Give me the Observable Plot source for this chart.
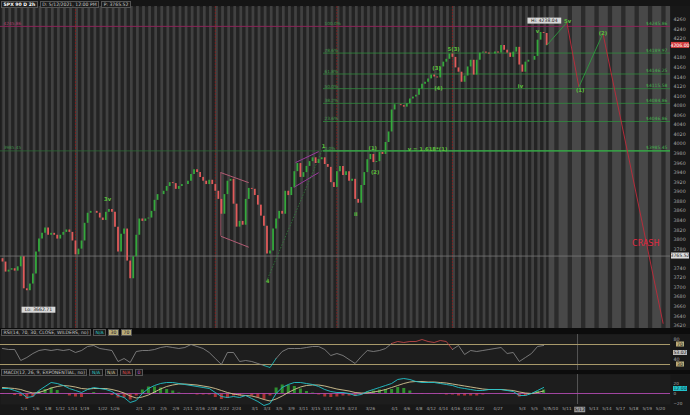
<!DOCTYPE html>
<html><head><meta charset="utf-8">
<script src="https://cdn.jsdelivr.net/npm/d3@7"></script>
<script src="https://cdn.jsdelivr.net/npm/@observablehq/plot@0.6"></script>
<style>
html,body{margin:0;padding:0;background:#0c0c0c;}
#wrap{position:relative;width:690px;height:415px;overflow:hidden;background:#0c0c0c;font-family:"DejaVu Sans",sans-serif;}
.abs{position:absolute;}
.hdr{font-size:4.6px;color:#c8c8c8;white-space:nowrap;line-height:5px;}
.bx{display:inline-block;padding:0 1.5px;margin-left:2px;border:0.5px solid #555;}
</style></head><body><div id="wrap">
<div class="abs hdr" style="left:0;top:0;width:690px;height:6px;background:#151515;"></div>
<div class="abs hdr" style="left:1px;top:0.5px;"><span class="bx" style="margin-left:0;font-weight:bold;color:#fff;background:#202020">SPX 90 D 2h</span><span class="bx" style="background:#1c1c1c">D: 5/12/2021, 12:00 PM</span><span class="bx" style="background:#1c1c1c">P: 3765.52</span></div>
<div class="abs hdr" style="left:1px;top:329px;"><span class="bx" style="margin-left:0;background:#1c1c1c">RSI(14, 70, 30, CLOSE, WILDERS, no)</span><span class="bx" style="color:#2cc9c9;background:#1c1c1c">N/A</span><span class="bx" style="color:#222;background:#b9ab78">30</span><span class="bx" style="color:#222;background:#b9ab78">70</span></div>
<div class="abs hdr" style="left:1px;top:369px;"><span class="bx" style="margin-left:0;background:#1c1c1c">MACD(12, 26, 9, EXPONENTIAL, no)</span><span class="bx" style="color:#2cc9c9;background:#1c1c1c">N/A</span><span class="bx" style="color:#d8c89a;background:#1c1c1c">N/A</span><span class="bx" style="color:#e05050;background:#1c1c1c">N/A</span><span class="bx" style="color:#c050c0;background:#1c1c1c">0</span></div>
</div>
<script>
// ---------- DATA ----------
// half-day closes starting 12/30/2020 (trading-day index -3), step 0.5 day
const closes = [
3753,3732,3736,3739,3734,3743,3764,3697,3693,3707,
3728,3774,3801,3813,3824,3809,3813,3809,3801,3809,
3815,3820,3815,3797,3768,3780,3797,3834,3855,3859,
3859,3855,3845,3840,3857,3863,3857,3826,3774,3811,
3822,3755,3718,3764,3809,3843,3838,3843,3845,3859,
3882,3894,3894,3901,3911,3919,3917,3905,3911,3915,
3915,3922,3936,3946,3940,3930,3922,3915,3924,3915,
3901,3884,3853,3894,3922,3926,3874,3826,3838,3830,
3884,3907,3905,3892,3872,3849,3828,3770,3776,3822,
3843,3859,3853,3901,3892,3909,3942,3959,3930,3940,
3953,3963,3971,3959,3967,3971,3957,3951,3919,3909,
3942,3953,3934,3942,3922,3926,3884,3876,3913,3940,
3967,3978,3961,3963,3982,3978,4003,4025,4071,4082,
4082,4080,4077,4084,4094,4098,4102,4115,4125,4129,
4136,4144,4140,4138,4161,4171,4177,4188,4181,4159,
4150,4129,4142,4161,4175,4144,4175,4190,4192,4190,
4188,4188,4192,4190,4206,4196,4190,4181,4192,4202,
4165,4150,4171,4175,4175,4183,4217,4233,4231,4206];
const firstOpen = 3760;
const startDay = -3;

// daily RSI and MACD from day index -3
const rsiValues = [62,60,60,38,44,52,58,60,58,60,58,60,54,58,66,68,62,60,58,36,
42,34,56,58,58,60,64,66,64,62,64,70,66,62,54,42,30,54,54,36,
38,36,32,28,24,42,56,62,62,62,64,66,66,60,48,52,48,40,32,46,
58,56,58,62,72,76,74,76,76,80,76,74,78,76,60,68,50,58,56,58,
60,62,64,52,54,36,44,52,66,68];
const rsiLast = 53.02;
const macdValues = [10,10,6,2,-8,-6,6,14,22,20,16,10,6,2,8,12,10,8,4,-4,
-8,-18,-14,0,10,16,20,22,22,20,18,16,14,12,10,2,-6,-8,-6,-8,
-4,-10,-16,-24,-20,0,12,18,22,22,20,18,14,8,4,2,2,0,-4,-2,
4,8,12,16,20,28,30,28,24,22,22,22,20,18,16,12,10,8,6,6,
8,8,8,6,4,-4,-4,0,6,12];
const signalValues = [12,11,10,8,4,1,2,6,11,14,16,15,13,10,9,10,10,10,8,5,
1,-5,-9,-7,-3,3,9,14,17,19,19,18,17,15,13,10,6,2,-1,-3,
-4,-5,-8,-12,-15,-11,-5,2,8,13,16,17,17,15,12,9,7,5,2,1,
1,3,5,8,12,16,20,23,24,24,23,23,22,21,19,17,15,13,11,9,
8,8,8,7,6,3,1,0,2,5];

// x-axis date labels and their trading-day index (1/4/2021 = 0)
const tickLabels = ["1/4","1/6","1/8","1/12","1/14","1/19","1/22","1/26","2/1","2/3","2/5","2/9","2/11","2/16","2/18","2/22","2/24",
"3/1","3/3","3/5","3/9","3/11","3/15","3/17","3/19","3/23","3/26","4/1","4/6","4/8","4/12","4/14","4/16","4/20","4/22","4/27",
"5/3","5/5","5/7","5/10","5/11","5/12","5/13","5/14","5/17","5/18","5/19","5/20"];
const tickDays = [0,2,4,6,8,10,13,15,19,21,23,25,27,29,31,33,35,
38,40,42,44,46,48,50,52,54,57,61,63,65,67,69,71,73,75,78,
82,84,86,87,88,89,90,91,92,93,94,95];
const lastDay = 95;
const futureStart = 86.9;
const expiryDays = [9, 32, 52, 71];

// price levels
const fibPrices = [4245.86, 4189.97, 4146.25, 4115.58, 4084.86, 4046.86, 3985.45];
const fibPct = ["100.0%", "78.6%", "61.8%", "50.0%", "38.2%", "23.6%", "0.0%"];
const fibStartDay = 49.8;
const crossPrice = 3765.52;
const crossDay = 89.3;
const hiPrice = 4238.04, hiDay = 86.2;
const loPrice = 3662.71, loDay = 0.5;

// wave labels
const waveText = ["3v","4","1","(1)","(2)","ii","(3)","(4)","5(3)","iv","v","5v","(1)","(2)","v = 1.618*(1)"];
const waveDay = [14.3,40.6,49.8,57.9,58.3,55.1,68.4,68.7,71.2,82.2,85.0,88.55,89.5,91.2,66.9];
const wavePrice = [3884,3712,3994,3990,3940,3853,4159,4117,4198,4121,4236,4256,4113,4231,3988];

// projection path
const projDays = [86.5, 88.5, 89.4, 91.2, 95.7];
const projPrices = [4206, 4254, 4119, 4231, 3624];

// drawn channel lines [day1, price1, day2, price2]
const pinkLines = [[32.9, 3940, 37.5, 3919], [32.9, 3807, 37.5, 3784]];
const purpleLines = [[45.2, 3961, 49.0, 3984], [44.9, 3909, 49.0, 3940]];
const greenDash = [[40.6, 3718, 49.8, 3994]];

const priceTicks = d3.range(3620, 4261, 20);

// ---------- BUILD ----------
// the expansion area (future) is drawn wider per day than the history
const breakDay = 87.4, futureStretch = 13.375 / 6.08;
const slot = t => t <= breakDay ? t : breakDay + (t - breakDay) * futureStretch;
const xEnd = 96.25;
const XS = {domain: [slot(startDay), slot(xEnd)], range: [2, 670]};

const GREEN = "#34a83c", RED = "#e05a5a";
const lastClose = closes[closes.length - 1];
const bars = closes.map((c, k) => ({t: startDay + 0.5 * k, open: k ? closes[k - 1] : firstOpen, close: c}));
const rsiData = rsiValues.map((v, k) => ({t: startDay + k, v}));
const macdData = macdValues.map((v, k) => ({t: startDay + k, m: v, s: signalValues[k], h: v - signalValues[k]}));
const pastDays = d3.range(startDay, futureStart);
const futDays = d3.range(Math.ceil(futureStart), lastDay + 1);
const fib = fibPrices.map((p, i) => ({p, pct: fibPct[i], lab: "$" + p.toFixed(2)}));
const waves = waveText.map((text, i) => ({text, t: waveDay[i], p: wavePrice[i]}));
const proj = projDays.slice(1).map((d, i) => ({x1: projDays[i], y1: projPrices[i], x2: d, y2: projPrices[i + 1]}));
const ticks = tickDays.map((d, i) => ({v: slot(d + 0.5), label: tickLabels[i]}));
const tickMap = new Map(ticks.map(d => [d.v, d.label]));
const toLink = a => a.map(([x1, y1, x2, y2]) => ({x1, y1, x2, y2}));
const linkOpts = {x1: d => slot(d.x1), y1: "y1", x2: d => slot(d.x2), y2: "y2"};
// axis ticks hidden under the value boxes
const shownPriceTicks = priceTicks.filter(v => Math.abs(v - lastClose) > 11 && Math.abs(v - crossPrice) > 11);

function boxes(items) {
  return (index, scales, values, dim) => {
    const g = d3.create("svg:g").attr("font-family", "DejaVu Sans").attr("font-size", 4.6);
    for (const b of items) {
      const cx = b.x == null ? dim.width - dim.marginRight + 10 : scales.x(slot(b.x));
      const cy = (b.y == null ? dim.height - dim.marginBottom + 5.5 : scales.y(b.y)) + (b.dy || 0);
      const w = b.w || (b.text.length * 2.8 + 3), h = b.h || 6;
      g.append("rect").attr("x", cx - w / 2).attr("y", cy - h / 2).attr("width", w).attr("height", h)
        .attr("fill", b.fill).attr("stroke", b.stroke || "none").attr("stroke-width", 0.5);
      g.append("text").attr("x", cx).attr("y", cy).attr("dy", "0.36em").attr("text-anchor", "middle")
        .attr("fill", b.color).text(b.text);
    }
    return g.node();
  };
}

const baseStyle = {background: "#181818", color: "#a8a8a8", fontFamily: "DejaVu Sans", fontSize: "4.8px"};

// PRICE PANEL
const price = Plot.plot({
  width: 690, height: 322,
  marginLeft: 0, marginRight: 20, marginTop: 0, marginBottom: 0,
  style: baseStyle,
  x: {...XS, axis: null},
  y: {domain: [3614, 4287.4], axis: "right", ticks: shownPriceTicks, tickSize: 0, tickPadding: 3, tickFormat: d => String(d), label: null},
  color: {type: "identity"},
  marks: [
    Plot.frame({fill: "#232323", stroke: null}),
    Plot.rect(pastDays, {x1: d => slot(d + 0.05), x2: d => slot(d + 0.5), fill: "#414141"}),
    Plot.rect([futureStart], {x1: d => slot(d), x2: slot(xEnd), fill: "#484848"}),
    Plot.rect(futDays, {x1: d => slot(d + 0.6), x2: d => slot(d + 0.92), fill: "#2b2b2b"}),
    Plot.ruleX(expiryDays, {x: d => slot(d), stroke: "#8a1e1e", strokeWidth: 0.8, strokeDasharray: "2,1"}),
    Plot.ruleY([crossPrice], {stroke: "#7a7a7a", strokeWidth: 0.8}),
    Plot.ruleY([fibPrices[6]], {stroke: "#2c6a35", strokeWidth: 0.8}),
    Plot.ruleY(fib.slice(1, 6), {y: "p", x1: slot(fibStartDay), x2: slot(xEnd), stroke: "#2f8a3c", strokeWidth: 0.8}),
    Plot.ruleY([fibPrices[6]], {x1: slot(fibStartDay), x2: slot(xEnd), stroke: "#38b24a", strokeWidth: 1.4}),
    Plot.ruleY([fibPrices[0]], {stroke: "#8a2458", strokeWidth: 1}),
    Plot.text(fib, {x: slot(fibStartDay), y: "p", text: "pct", fill: "#3f9a4a", fontSize: 4.3, textAnchor: "start", dx: 1, dy: -2.5}),
    Plot.text(fib, {y: "p", text: "lab", frameAnchor: "right", fill: "#45b04f", fontSize: 4.5, textAnchor: "end", dx: -3, dy: -3}),
    Plot.text([fibPrices[0]], {y: d => d, text: d => d.toFixed(2), frameAnchor: "left", fill: "#b04070", fontSize: 4.3, textAnchor: "start", dx: 3, dy: -3}),
    Plot.text([fibPrices[6]], {y: d => d, text: d => d.toFixed(2), frameAnchor: "left", fill: "#3f8a4a", fontSize: 4.3, textAnchor: "start", dx: 3, dy: -3}),
    Plot.link(toLink(pinkLines), {...linkOpts, stroke: "#c0607a", strokeWidth: 0.9}),
    Plot.ruleX([pinkLines[0][0]], {x: d => slot(d), y1: pinkLines[1][1], y2: pinkLines[0][1], stroke: "#c0607a", strokeWidth: 0.7}),
    Plot.link(toLink(purpleLines), {...linkOpts, stroke: "#a63aa8", strokeWidth: 0.9}),
    Plot.link(toLink(greenDash), {...linkOpts, stroke: "#2f8a3c", strokeWidth: 0.7, strokeDasharray: "1.5,1.5"}),
    Plot.ruleX(bars, {x: d => slot(d.t), y1: "open", y2: "close", stroke: d => d.close >= d.open ? GREEN : RED, strokeWidth: 1.8}),
    Plot.link(proj, {...linkOpts, stroke: d => d.y2 > d.y1 ? "#2e9a3e" : "#c02a3a", strokeWidth: 0.9}),
    Plot.text(waves, {x: d => slot(d.t), y: "p", text: "text", fill: "#5cc03c", fontSize: 5.3, fontWeight: "bold"}),
    Plot.text(["CRASH"], {x: slot(94.4), y: 3791, text: d => d, fill: "#e02840", fontSize: 8}),
    boxes([
      {y: lastClose, text: lastClose.toFixed(2), fill: "#d23c3c", color: "#fff", w: 18},
      {y: crossPrice, text: crossPrice.toFixed(2), fill: "#dcdcdc", color: "#222", w: 18},
      {x: hiDay, y: hiPrice, dy: -9, text: "Hi: " + hiPrice.toFixed(2), fill: "#d8d8d8", color: "#222"},
      {x: loDay + 2.5, y: loPrice, dy: 5, text: "Lo: " + loPrice.toFixed(2), fill: "#d8d8d8", color: "#222"}
    ])
  ]
});
price.style.position = "absolute"; price.style.left = "0px"; price.style.top = "6px";

// RSI PANEL
const rsiPlot = Plot.plot({
  width: 690, height: 36,
  marginLeft: 0, marginRight: 20, marginTop: 0, marginBottom: 0,
  style: baseStyle,
  x: {...XS, axis: null},
  y: {domain: [18, 90], axis: "right", ticks: [80, 40], tickSize: 0, tickPadding: 3, label: null},
  color: {type: "identity"},
  marks: [
    Plot.frame({fill: "#1d1d1d", stroke: null}),
    Plot.ruleX([crossDay], {x: d => slot(d), stroke: "#555"}),
    Plot.ruleY([70, 30], {stroke: "#a8996a", strokeWidth: 1}),
    Plot.line(rsiData, {x: d => slot(d.t), y: "v", z: null, stroke: d => d.v > 70 ? "#d04a4a" : d.v < 30 ? "#1ec8c8" : "#8e8e8e", strokeWidth: 0.8}),
    boxes([
      {y: 70, text: "70", fill: "#b9ab78", color: "#222", w: 8, h: 5},
      {y: 30, text: "30", fill: "#b9ab78", color: "#222", w: 8, h: 5},
      {y: rsiLast, text: rsiLast.toFixed(2), fill: "#bdbdbd", color: "#222", w: 14, h: 5}
    ])
  ]
});
rsiPlot.style.position = "absolute"; rsiPlot.style.left = "0px"; rsiPlot.style.top = "334px";

// MACD PANEL + DATE AXIS
const macdPlot = Plot.plot({
  width: 690, height: 41,
  marginLeft: 0, marginRight: 20, marginTop: 0, marginBottom: 11,
  style: {...baseStyle, fontSize: "4.2px"},
  x: {...XS, axis: "bottom", ticks: ticks.map(d => d.v), tickFormat: d => tickMap.get(d), tickSize: 0, tickPadding: 3, label: null},
  y: {domain: [-22, 38], axis: "right", ticks: [20, 0, -20], tickSize: 0, tickPadding: 3, label: null},
  color: {type: "identity"},
  marks: [
    Plot.frame({fill: "#1d1d1d", stroke: null}),
    Plot.ruleX([crossDay], {x: d => slot(d), stroke: "#555"}),
    Plot.ruleX(macdData, {x: d => slot(d.t), y1: 0, y2: "h", stroke: d => d.h >= 0 ? "#2f8f2f" : "#a83232", strokeWidth: 3}),
    Plot.ruleY([0], {stroke: "#b04ab0", strokeWidth: 0.9}),
    Plot.line(macdData, {x: d => slot(d.t), y: "s", stroke: "#d6c694", strokeWidth: 0.9}),
    Plot.line(macdData, {x: d => slot(d.t), y: "m", stroke: "#22c4cc", strokeWidth: 0.9}),
    boxes([
      {y: macdValues[macdValues.length - 1], dy: 1.5, text: macdValues[macdValues.length - 1].toFixed(2), fill: "#22c4cc", color: "#0a3a3c", w: 14, h: 5},
      {x: 89.5, text: "5/12", fill: "#9a9a9a", color: "#111", w: 11, h: 5.5}
    ])
  ]
});
macdPlot.style.position = "absolute"; macdPlot.style.left = "0px"; macdPlot.style.top = "374px";

const wrap = document.getElementById("wrap");
wrap.insertBefore(price, wrap.firstChild);
wrap.insertBefore(rsiPlot, wrap.firstChild);
wrap.insertBefore(macdPlot, wrap.firstChild);
</script>
</body></html>
